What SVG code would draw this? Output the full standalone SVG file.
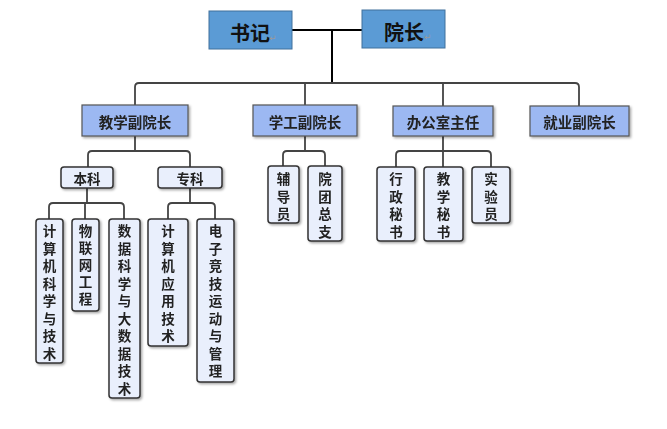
<svg xmlns="http://www.w3.org/2000/svg" width="667" height="429" viewBox="0 0 667 429">
<defs>
<filter id="sh" x="-20%" y="-20%" width="150%" height="150%">
<feDropShadow dx="1.5" dy="1.5" stdDeviation="1" flood-color="#000" flood-opacity="0.35"/>
</filter>
<style>
.top{fill:#5b9bd5;stroke:#41719c;stroke-width:1}
.mid{fill:#9cb8f2;stroke:#555;stroke-width:1.2}
.low{fill:#e9effc;stroke:#333;stroke-width:1.5}
.tt{font-family:"Noto Sans CJK SC","Noto Sans",sans-serif;font-weight:bold;font-size:20px;fill:#111;text-anchor:middle;dominant-baseline:central}
.pm{font-family:"DejaVu Sans",sans-serif;font-size:9px;fill:#999;dominant-baseline:central}
.mt{font-family:"Noto Sans CJK SC","Noto Sans",sans-serif;font-weight:bold;font-size:14.5px;fill:#222;text-anchor:middle;dominant-baseline:central}
.lt{font-family:"Noto Sans CJK SC","Noto Sans",sans-serif;font-weight:bold;font-size:13.5px;fill:#222;text-anchor:middle;dominant-baseline:central}
.c{fill:none;stroke:#444;stroke-width:1.8}
.k{fill:none;stroke:#000;stroke-width:2}
</style>
</defs>
<g id="connectors">
<path class="k" d="M292,30 H362 M332,30 V83"/>
<path class="c" d="M135,106 V87 Q135,83 139,83 H575 Q579,83 579,87 V106 M305,83 V106 M443,83 V106"/>
<path class="c" d="M135,136 V151 M88,167 V155 Q88,151 92,151 H186 Q190,151 190,155 V167"/>
<path class="c" d="M87,188 V203 M49,219 V207 Q49,203 53,203 H120 Q124,203 124,207 V219 M85,203 V219"/>
<path class="c" d="M190,188 V203 M168,219 V207 Q168,203 172,203 H211 Q215,203 215,207 V219"/>
<path class="c" d="M305,136 V151 M283,166 V155 Q283,151 287,151 H321 Q325,151 325,155 V166"/>
<path class="c" d="M443,136 V167 M396,167 V155 Q396,151 400,151 H487 Q491,151 491,155 V167"/>
</g>
<g id="shuji">
<rect class="top" x="209" y="11" width="83" height="38"/>
<text class="tt" x="250" y="32">书记</text><text class="pm" x="269" y="38">↵</text>
</g>
<g id="yuanzhang">
<rect class="top" x="362" y="10" width="83" height="38"/>
<text class="tt" x="404" y="31">院长</text><text class="pm" x="424" y="37">↵</text>
</g>
<g id="jiaoxue" filter="url(#sh)">
<rect class="mid" x="82" y="105" width="106" height="31"/>
<text class="mt" x="135" y="121">教学副院长</text>
</g>
<g id="xuegong" filter="url(#sh)">
<rect class="mid" x="253" y="105" width="104" height="31"/>
<text class="mt" x="305" y="121">学工副院长</text>
</g>
<g id="bangongshi" filter="url(#sh)">
<rect class="mid" x="393" y="106" width="100" height="30"/>
<text class="mt" x="443" y="121">办公室主任</text>
</g>
<g id="jiuye" filter="url(#sh)">
<rect class="mid" x="530" y="106" width="99" height="30"/>
<text class="mt" x="579.5" y="121">就业副院长</text>
</g>
<g id="benke" filter="url(#sh)">
<rect class="low" x="61" y="167" width="52" height="21" rx="3"/>
<text class="lt" x="87" y="177.5">本科</text>
</g>
<g id="zhuanke" filter="url(#sh)">
<rect class="low" x="158" y="167" width="64" height="21" rx="3"/>
<text class="lt" x="190" y="177.5">专科</text>
</g>
<g id="jsjkx" filter="url(#sh)">
<rect class="low" x="36" y="219" width="27" height="144" rx="3"/>
<text class="lt"><tspan x="49.5" y="230">计</tspan><tspan x="49.5" dy="17.5">算</tspan><tspan x="49.5" dy="17.5">机</tspan><tspan x="49.5" dy="17.5">科</tspan><tspan x="49.5" dy="17.5">学</tspan><tspan x="49.5" dy="17.5">与</tspan><tspan x="49.5" dy="17.5">技</tspan><tspan x="49.5" dy="17.5">术</tspan></text>
</g>
<g id="wlw" filter="url(#sh)">
<rect class="low" x="72" y="219" width="27" height="92" rx="3"/>
<text class="lt"><tspan x="85.5" y="230">物</tspan><tspan x="85.5" dy="17">联</tspan><tspan x="85.5" dy="17">网</tspan><tspan x="85.5" dy="17">工</tspan><tspan x="85.5" dy="17">程</tspan></text>
</g>
<g id="sjkx" filter="url(#sh)">
<rect class="low" x="109" y="219" width="31" height="179" rx="3"/>
<text class="lt"><tspan x="124.5" y="230">数</tspan><tspan x="124.5" dy="17.5">据</tspan><tspan x="124.5" dy="17.5">科</tspan><tspan x="124.5" dy="17.5">学</tspan><tspan x="124.5" dy="17.5">与</tspan><tspan x="124.5" dy="17.5">大</tspan><tspan x="124.5" dy="17.5">数</tspan><tspan x="124.5" dy="17.5">据</tspan><tspan x="124.5" dy="17.5">技</tspan><tspan x="124.5" dy="17.5">术</tspan></text>
</g>
<g id="jsjyy" filter="url(#sh)">
<rect class="low" x="148" y="219" width="40" height="127" rx="3"/>
<text class="lt"><tspan x="168" y="230">计</tspan><tspan x="168" dy="17.5">算</tspan><tspan x="168" dy="17.5">机</tspan><tspan x="168" dy="17.5">应</tspan><tspan x="168" dy="17.5">用</tspan><tspan x="168" dy="17.5">技</tspan><tspan x="168" dy="17.5">术</tspan></text>
</g>
<g id="dzjj" filter="url(#sh)">
<rect class="low" x="197" y="219" width="37" height="163" rx="3"/>
<text class="lt"><tspan x="215.5" y="230">电</tspan><tspan x="215.5" dy="17.5">子</tspan><tspan x="215.5" dy="17.5">竞</tspan><tspan x="215.5" dy="17.5">技</tspan><tspan x="215.5" dy="17.5">运</tspan><tspan x="215.5" dy="17.5">动</tspan><tspan x="215.5" dy="17.5">与</tspan><tspan x="215.5" dy="17.5">管</tspan><tspan x="215.5" dy="17.5">理</tspan></text>
</g>
<g id="fudaoyuan" filter="url(#sh)">
<rect class="low" x="268" y="166" width="31" height="57" rx="3"/>
<text class="lt"><tspan x="283.5" y="178">辅</tspan><tspan x="283.5" dy="17.5">导</tspan><tspan x="283.5" dy="17.5">员</tspan></text>
</g>
<g id="yuantuan" filter="url(#sh)">
<rect class="low" x="308" y="166" width="34" height="75" rx="3"/>
<text class="lt"><tspan x="325" y="178">院</tspan><tspan x="325" dy="17.5">团</tspan><tspan x="325" dy="17.5">总</tspan><tspan x="325" dy="17.5">支</tspan></text>
</g>
<g id="xingzheng" filter="url(#sh)">
<rect class="low" x="377" y="167" width="38" height="74" rx="3"/>
<text class="lt"><tspan x="396" y="178">行</tspan><tspan x="396" dy="17.5">政</tspan><tspan x="396" dy="17.5">秘</tspan><tspan x="396" dy="17.5">书</tspan></text>
</g>
<g id="jiaoxuemishu" filter="url(#sh)">
<rect class="low" x="424" y="167" width="39" height="74" rx="3"/>
<text class="lt"><tspan x="443.5" y="178">教</tspan><tspan x="443.5" dy="17.5">学</tspan><tspan x="443.5" dy="17.5">秘</tspan><tspan x="443.5" dy="17.5">书</tspan></text>
</g>
<g id="shiyanyuan" filter="url(#sh)">
<rect class="low" x="472" y="167" width="38" height="56" rx="3"/>
<text class="lt"><tspan x="491" y="178">实</tspan><tspan x="491" dy="17.5">验</tspan><tspan x="491" dy="17.5">员</tspan></text>
</g>
</svg>
